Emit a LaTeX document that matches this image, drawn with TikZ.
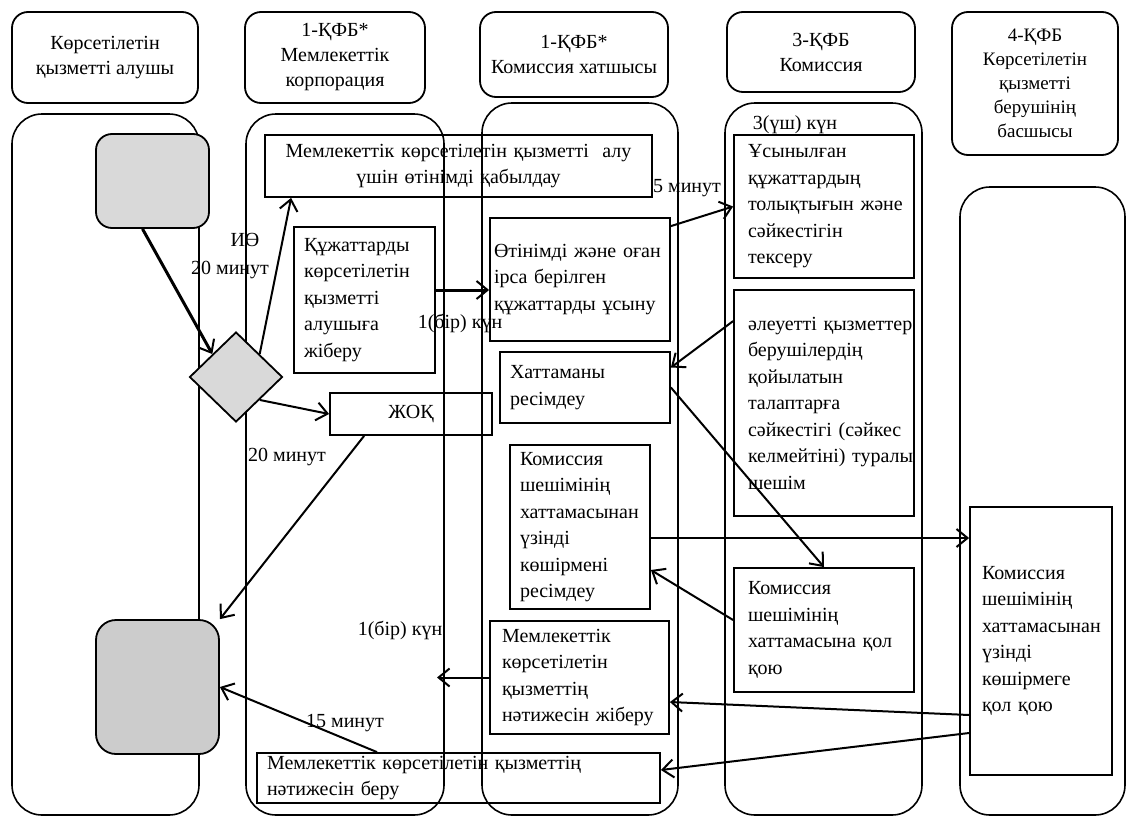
\documentclass[tikz,border=0pt]{standalone}
\usepackage{fontspec}
\setmainfont{Liberation Serif}
\usetikzlibrary{arrows.meta,shapes.geometric}
\definecolor{startgrey}{HTML}{D9D9D9}
\definecolor{endgrey}{HTML}{CCCCCC}

\begin{document}
\begin{tikzpicture}[x=1pt, y=-1pt,
  lane/.style={draw, line width=1.6pt, rounded corners=30pt},
  head/.style={draw, line width=1.8pt, rounded corners=16pt, align=center, font=\fontsize{20}{25}\selectfont},
  box/.style={draw, line width=1.8pt, inner xsep=10pt, inner ysep=0pt, align=left, font=\fontsize{20}{26.5}\selectfont},
  grey/.style={draw, line width=1.8pt, rounded corners=16pt},
  lbl/.style={inner sep=0pt, font=\fontsize{20}{22}\selectfont},
  arr/.style={draw, line width=2pt, -{Straight Barb[length=11pt, width=18pt, line width=2pt]}},
  thick arr/.style={arr, line width=3pt}]
  \useasboundingbox (0,0) rectangle (1128,817);

  \node[lane, minimum width=187pt, minimum height=701pt] (lane1) at (105.5,464.5) {};
  \node[lane, minimum width=198pt, minimum height=701pt] (lane2) at (345,464.5) {};
  \node[lane, minimum width=196pt, minimum height=712pt] (lane3) at (580,459) {};
  \node[lane, minimum width=197pt, minimum height=712pt] (lane4) at (823.5,459) {};
  \node[lane, minimum width=165pt, minimum height=628pt] (lane5) at (1042.5,501) {};

  \node[head, minimum width=186pt, minimum height=91pt] (recipient) at (105,57.5) {Көрсетілетін\\қызметті алушы};
  \node[head, minimum width=180pt, minimum height=91pt] (corp) at (335,57.5) {1-ҚФБ*\\Мемлекеттік\\корпорация};
  \node[head, minimum width=188pt, minimum height=85pt] (secretary) at (574,54.5) {1-ҚФБ*\\Комиссия хатшысы};
  \node[head, minimum width=188pt, minimum height=80pt] (commission) at (821,52) {3-ҚФБ\\Комиссия};
  \node[head, minimum width=166pt, minimum height=143pt, font=\fontsize{19}{24}\selectfont] (chief) at (1035,83.5) {4-ҚФБ\\Көрсетілетін\\қызметті\\берушінің\\басшысы};

  \node[box, align=center, minimum width=387pt, minimum height=62pt, text width=367pt] (receive) at (458.5,166) {Мемлекеттік көрсетілетін қызметті~~алу\\үшін өтінімді қабылдау};
  \node[box, minimum width=141pt, minimum height=146pt, text width=121pt] (sendback) at (364.5,300) {Құжаттарды\\көрсетілетін\\қызметті\\алушыға\\жіберу};
  \node[box, align=center, minimum width=162pt, minimum height=42pt, text width=142pt] (refuse) at (411,414) {ЖОҚ};
  \node[box, inner xsep=4pt, minimum width=180pt, minimum height=123pt, text width=172pt] (submit) at (580,279.5) {Өтінімді~және~оған\\ірса~берілген\\құжаттарды~ұсыну};
  \node[box, minimum width=170pt, minimum height=71pt, text width=150pt] (protocol) at (585,387.5) {Хаттаманы\\ресімдеу};
  \node[box, minimum width=140pt, minimum height=164pt, text width=120pt] (extract) at (580,527) {Комиссия\\шешімінің\\хаттамасынан\\үзінді\\көшірмені\\ресімдеу};
  \node[box, inner xsep=12pt, minimum width=179pt, minimum height=113pt, text width=155pt] (sendres) at (579.5,677.5) {Мемлекеттік\\көрсетілетін\\қызметтің\\нәтижесін~жіберу};
  \node[box, minimum width=403pt, minimum height=50pt, text width=383pt] (issue) at (458.5,778) {Мемлекеттік көрсетілетін қызметтің\\нәтижесін беру};
  \node[box, inner xsep=14pt, minimum width=180pt, minimum height=143pt, text width=152pt] (check) at (824,206.5) {Ұсынылған\\құжаттардың\\толықтығын~және\\сәйкестігін\\тексеру};
  \node[box, inner xsep=14pt, minimum width=180pt, minimum height=226pt, text width=152pt] (decide) at (824,403) {әлеуетті~қызметтер\\берушілердің\\қойылатын\\талаптарға\\сәйкестігі~(сәйкес\\келмейтіні)~туралы\\шешім};
  \node[box, inner xsep=14pt, minimum width=180pt, minimum height=124pt, text width=152pt] (sign) at (824,630) {Комиссия\\шешімінің\\хаттамасына~қол\\қою};
  \node[box, inner xsep=12pt, minimum width=142pt, minimum height=268pt, text width=118pt] (signext) at (1041,641) {Комиссия\\шешімінің\\хаттамасынан\\үзінді\\көшірмеге\\қол~қою};

  \node[grey, fill=startgrey, minimum width=113pt, minimum height=94pt] (start) at (152.5,181) {};
  \node[grey, fill=endgrey, rounded corners=20pt, minimum width=123pt, minimum height=134pt] (finish) at (157.5,687) {};
  \node[diamond, draw, line width=1.8pt, fill=startgrey, minimum width=93pt, minimum height=90pt, inner sep=0pt] (choice) at (236,377) {};

  \node[lbl] (ie) at (245,240) {ИӨ};
  \node[lbl] (min20a) at (230,270) {20 минут};
  \node[lbl] (day1a) at (460,323) {1(бір) күн};
  \node[lbl] (min5) at (687,188) {5 минут};
  \node[lbl] (day3) at (795,125) {3(үш) күн};
  \node[lbl] (min20b) at (287,457) {20 минут};
  \node[lbl] (day1b) at (400,630) {1(бір) күн};
  \node[lbl] (min15) at (345,723) {15 минут};

  \coordinate (back) at (437,677.5);

  \draw[thick arr] ([xshift=-10pt]start.south) -- (choice.north west);
  \draw[arr] (choice.north east) -- ([xshift=27pt]receive.south west);
  \draw[arr] (choice.south east) -- (refuse.west);
  \draw[arr] ([xshift=35pt]refuse.south west) -- (finish.north east);
  \draw[thick arr] ([yshift=10pt]sendback.east) -- ([yshift=-10.5pt]submit.west);
  \draw[arr] ([yshift=-9pt]submit.north east) -- (check.west);
  \draw[arr] ([yshift=-32pt]decide.north west) -- ([yshift=20pt]protocol.east);
  \draw[arr] (protocol.east) -- (sign.north);
  \draw[arr] ([yshift=-11pt]extract.east) coordinate (ext) -- (signext.west |- ext);
  \draw[arr] ([yshift=10pt]sign.west) -- ([yshift=-43pt]extract.east);
  \draw[arr] ([yshift=-74pt]signext.west) -- ([yshift=-24.5pt]sendres.east);
  \draw[arr] ([yshift=-92pt]signext.west) -- ([yshift=8pt]issue.east);
  \draw[arr] (sendres.west) -- (back);
  \draw[arr] ([xshift=-81.5pt]issue.north) -- (finish.east);
\end{tikzpicture}
\end{document}
